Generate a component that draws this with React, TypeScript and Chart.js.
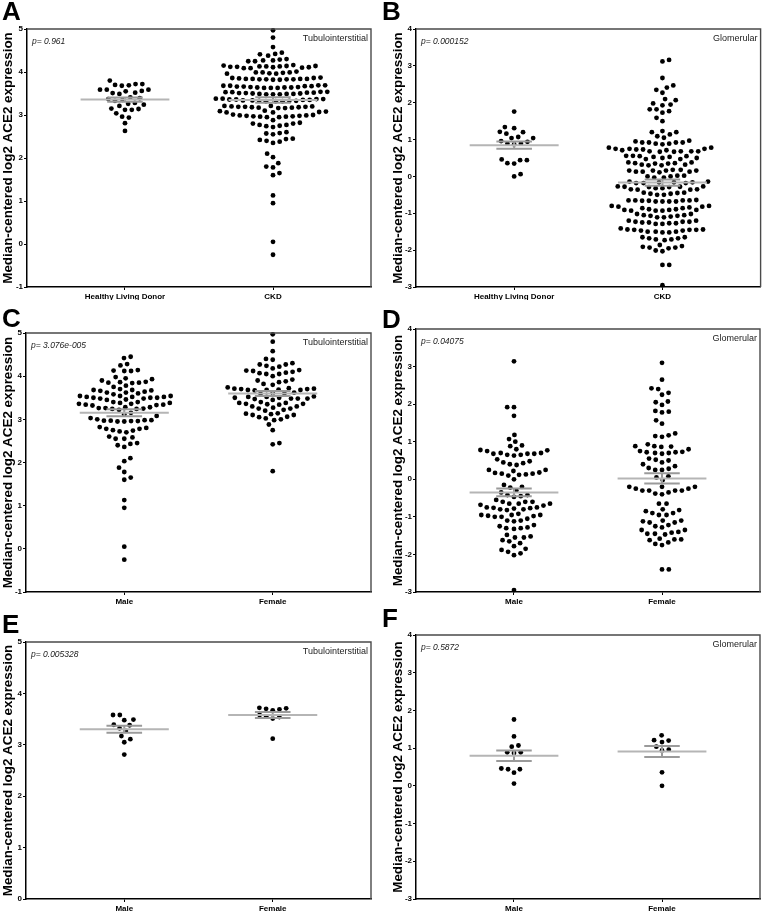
import React, { useEffect, useRef } from "react";
import { Chart, registerables } from "chart.js";
Chart.register(...registerables);

// ---------- categories & labels ----------
const donorCategories = ["Healthy Living Donor", "CKD"];
const sexCategories = ["Male", "Female"];
const panelLetters = ["A", "B", "C", "D", "E", "F"];
const pValueTexts = ["p= 0.961", "p= 0.000152", "p= 3.076e-005", "p= 0.04075", "p= 0.005328", "p= 0.5872"];
const compartmentTexts = ["Tubulointerstitial", "Glomerular", "Tubulointerstitial", "Glomerular", "Tubulointerstitial", "Glomerular"];
const yAxisTitle = "Median-centered log2 ACE2 expression";

// ---------- values ----------
const tubHealthyDonor = [3.72, 3.70, 3.68, 3.69, 3.72, 3.80, 3.59, 3.59, 3.55, 3.49, 3.51, 3.52, 3.56, 3.59, 3.39, 3.35, 3.33, 3.37, 3.41, 3.24, 3.26, 3.21, 3.28, 3.12, 3.15, 3.12, 3.14, 2.96, 2.94, 3.04, 2.81, 2.63];

const tubCkdAll = [
  4.97, 4.80, 4.58,
  4.45, 4.41, 4.42, 4.38,
  4.30, 4.27, 4.25, 4.25, 4.27, 4.29,
  4.16, 4.14, 4.13, 4.13, 4.12, 4.11, 4.09, 4.09, 4.10, 4.11, 4.12, 4.13, 4.14, 4.15,
  3.99, 3.96, 3.97, 3.99, 3.98, 3.96, 3.99, 4.01,
  3.87, 3.86, 3.84, 3.83, 3.84, 3.83, 3.82, 3.82, 3.83, 3.83, 3.84, 3.84, 3.85, 3.86,
  3.69, 3.68, 3.67, 3.66, 3.65, 3.64, 3.63, 3.63, 3.63, 3.64, 3.64, 3.65, 3.66, 3.67, 3.68, 3.69,
  3.54, 3.53, 3.52, 3.51, 3.50, 3.49, 3.48, 3.48, 3.48, 3.49, 3.49, 3.50, 3.51, 3.52, 3.53, 3.54,
  3.38, 3.37, 3.36, 3.35, 3.34, 3.33, 3.32, 3.32, 3.32, 3.33, 3.33, 3.34, 3.35, 3.36, 3.37, 3.38,
  3.21, 3.20, 3.19, 3.18, 3.17, 3.16, 3.16, 3.17, 3.18, 3.19, 3.19, 3.20, 3.21,
  3.09, 3.07, 3.06, 3.06, 3.08, 3.10,
  3.00, 2.99, 2.98, 2.97, 2.96, 2.95, 2.95, 2.96, 2.97, 2.98, 2.99, 3.01,
  2.88,
  2.82, 2.80, 2.77, 2.75, 2.72, 2.74, 2.77, 2.80,
  2.60, 2.57, 2.55, 2.58,
  2.45, 2.42, 2.38, 2.35, 2.40, 2.44,
  2.10, 2.02, 1.88, 1.80, 1.78, 1.65, 1.60, 1.13, 0.95, 0.05, -0.25,
];

const gloCkdAll = [
  3.16, 3.12, 2.67,
  2.41, 2.47, 2.35, 2.27,
  2.07, 1.95, 1.93, 1.98, 2.10,
  1.82, 1.73, 1.77, 1.82,
  1.59, 1.50,
  1.20, 1.14, 1.23, 1.09, 1.05, 1.20,
  0.97, 0.92, 0.92, 0.89, 0.87, 0.89, 0.92, 0.92, 0.95,
  0.78, 0.75, 0.73, 0.71, 0.68, 0.68, 0.67, 0.67, 0.68, 0.68, 0.71, 0.73, 0.75, 0.75, 0.78,
  0.56, 0.55, 0.53, 0.50, 0.47, 0.47, 0.50, 0.53, 0.55, 0.56,
  0.38, 0.36, 0.35, 0.32, 0.30, 0.30, 0.32, 0.35, 0.36, 0.38,
  0.18, 0.16, 0.16, 0.13, 0.13, 0.11, 0.13, 0.16, 0.16, 0.18,
  0.02, 0.00, -0.03, -0.03, 0.00, 0.02,
  -0.14, -0.16, -0.18, -0.18, -0.18, -0.16, -0.14, -0.16,
  -0.27, -0.28, -0.29, -0.32, -0.35, -0.36, -0.36, -0.35, -0.32, -0.29, -0.28, -0.27,
  -0.44, -0.47, -0.50, -0.50, -0.47, -0.44, -0.45,
  -0.65, -0.65, -0.66, -0.68, -0.68, -0.68, -0.68, -0.66, -0.65, -0.64, -0.65,
  -0.80, -0.82, -0.86, -0.89, -0.91, -0.91, -0.93, -0.93, -0.93, -0.91, -0.89, -0.86, -0.84, -0.82, -0.80,
  -1.02, -1.05, -1.07, -1.11, -1.11, -1.09, -1.07, -1.05, -1.02,
  -1.20, -1.23, -1.23, -1.25, -1.27, -1.29, -1.29, -1.27, -1.25, -1.23, -1.20,
  -1.41, -1.44, -1.45, -1.47, -1.50, -1.52, -1.52, -1.50, -1.47, -1.45, -1.50, -1.45, -1.44,
  -1.65, -1.68, -1.71, -1.73, -1.71, -1.68, -1.65,
  -1.86, -1.91, -1.93, -1.95, -1.93, -1.89,
  -2.03, -2.01,
  -2.40, -2.40,
  -2.95,
];

const tubCkdMale = [4.45, 4.42, 4.28, 4.25, 4.14, 4.12, 4.12, 4.13, 3.98, 3.95, 3.93, 3.90, 3.87, 3.85, 3.84, 3.85, 3.86, 3.78, 3.75, 3.70, 3.68, 3.66, 3.62, 3.64, 3.67, 3.68, 3.60, 3.58, 3.62, 3.54, 3.52, 3.52, 3.50, 3.48, 3.46, 3.45, 3.48, 3.50, 3.50, 3.52, 3.54, 3.54, 3.40, 3.38, 3.36, 3.34, 3.33, 3.32, 3.34, 3.36, 3.38, 3.40, 3.28, 3.26, 3.25, 3.24, 3.22, 3.24, 3.26, 3.28, 3.15, 3.12, 3.08, 3.00, 2.98, 2.97, 2.96, 2.95, 2.95, 2.96, 2.97, 2.98, 3.03, 2.80, 2.78, 2.75, 2.72, 2.70, 2.74, 2.78, 2.82, 2.60, 2.55, 2.55, 2.58, 2.45, 2.40, 2.36, 2.43, 2.10, 2.03, 1.88, 1.78, 1.65, 1.60, 1.13, 0.95, 0.05, -0.25];

const tubCkdFemale = [4.97, 4.80, 4.58, 4.40, 4.38, 4.27, 4.22, 4.18, 4.24, 4.27, 4.30, 4.13, 4.10, 4.07, 4.05, 4.00, 4.05, 4.08, 4.12, 4.14, 3.92, 3.88, 3.86, 3.90, 3.82, 3.80, 3.72, 3.71, 3.70, 3.68, 3.68, 3.67, 3.68, 3.69, 3.70, 3.71, 3.74, 3.60, 3.61, 3.59, 3.62, 3.48, 3.47, 3.52, 3.50, 3.53, 3.50, 3.52, 3.48, 3.45, 3.48, 3.38, 3.36, 3.34, 3.35, 3.36, 3.38, 3.40, 3.30, 3.27, 3.25, 3.20, 3.22, 3.25, 3.30, 3.14, 3.12, 3.10, 3.06, 3.02, 3.05, 3.10, 3.13, 2.98, 3.00, 2.88, 2.75, 2.45, 2.42, 1.80];

const gloCkdMale = [3.14, 1.92, 1.92, 1.69, 1.18, 1.07, 1.00, 0.88, 0.90, 0.78, 0.75, 0.77, 0.80, 0.70, 0.68, 0.65, 0.63, 0.65, 0.68, 0.68, 0.70, 0.48, 0.43, 0.53, 0.45, 0.38, 0.40, 0.25, 0.22, 0.18, 0.15, 0.12, 0.10, 0.13, 0.15, 0.17, 0.25, 0.00, -0.15, -0.22, -0.20, -0.30, -0.35, -0.42, -0.45, -0.47, -0.42, -0.60, -0.65, -0.68, -0.55, -0.60, -0.65, -0.70, -0.65, -0.60, -0.75, -0.78, -0.80, -0.76, -0.82, -0.80, -0.77, -0.75, -0.95, -0.98, -1.00, -0.92, -0.95, -1.00, -0.97, -0.95, -1.10, -1.12, -1.05, -1.10, -1.25, -1.30, -1.32, -1.30, -1.28, -1.22, -1.48, -1.55, -1.55, -1.52, -1.62, -1.70, -1.65, -1.78, -1.88, -1.97, -2.02, -1.93, -1.85, -2.95];

const gloCkdFemale = [3.10, 2.65, 2.42, 2.40, 2.30, 2.25, 2.07, 1.98, 2.05, 1.80, 1.78, 1.82, 1.57, 1.48, 1.22, 1.15, 1.13, 1.17, 0.88, 0.87, 0.86, 0.88, 0.93, 0.75, 0.72, 0.70, 0.68, 0.70, 0.72, 0.73, 0.80, 0.52, 0.45, 0.50, 0.55, 0.40, 0.35, 0.30, 0.25, 0.28, 0.25, 0.08, 0.05, -0.02, -0.25, -0.30, -0.20, -0.30, -0.20, -0.30, -0.20, -0.30, -0.25, -0.35, -0.40, -0.38, -0.65, -0.65, -0.80, -0.85, -0.90, -0.95, -0.95, -0.90, -0.82, -1.15, -1.10, -1.12, -1.15, -1.10, -1.28, -1.35, -1.25, -1.22, -1.40, -1.42, -1.35, -1.45, -1.47, -1.45, -1.60, -1.62, -1.68, -1.72, -1.75, -1.60, -1.58, -2.40, -2.40];

const tubHealthyMale = [3.58, 3.58, 3.49, 3.48, 3.38, 3.39, 3.32, 3.27, 3.17, 3.11, 3.05, 2.81];
const tubHealthyFemale = [3.71, 3.70, 3.67, 3.69, 3.72, 3.58, 3.54, 3.51, 3.55, 3.12];

const gloHealthyMale = [1.76, 1.31, 1.07, 1.04, 0.89, 0.87, 0.89, 0.46, 0.44, 0.35, 0.44, 0.06];
const gloHealthyFemale = [1.34, 1.20, 1.16, 1.21, 1.04, 0.94, 0.96, 0.36, 0.00];

const tubYRange = [-1, 5];
const gloYRange = [-3, 4];
const tubHealthyYRange = [0, 5];

// ---------- panel setup ----------
const panelGroups = [
  [tubHealthyDonor, tubCkdAll],
  [[...gloHealthyMale, ...gloHealthyFemale], gloCkdAll],
  [tubCkdMale, tubCkdFemale],
  [gloCkdMale, gloCkdFemale],
  [tubHealthyMale, tubHealthyFemale],
  [gloHealthyMale, gloHealthyFemale],
];
const panelCategories = [donorCategories, donorCategories, sexCategories, sexCategories, sexCategories, sexCategories];
const panelYRanges = [tubYRange, gloYRange, tubYRange, gloYRange, tubHealthyYRange, gloYRange];

// layout (page pixel coordinates)
const layouts = [
  { cx: 0, cy: 0, cw: 380, ch: 300, l: 27, t: 29, r: 371, b: 287, letterY: 20 },
  { cx: 380, cy: 0, cw: 383, ch: 300, l: 416, t: 29, r: 761, b: 287, letterY: 20 },
  { cx: 0, cy: 300, cw: 380, ch: 305, l: 26, t: 333, r: 371, b: 592, letterY: 327 },
  { cx: 380, cy: 300, cw: 383, ch: 305, l: 416, t: 329, r: 760, b: 592, letterY: 328 },
  { cx: 0, cy: 605, cw: 380, ch: 307, l: 26, t: 642, r: 371, b: 899, letterY: 633 },
  { cx: 380, cy: 605, cw: 383, ch: 307, l: 416, t: 635, r: 760, b: 899, letterY: 627 },
];

const X_MIN = 0.338;
const X_MAX = 2.662;
const DOT_PX = 6.8;
const FONT = "'Liberation Sans', Arial, Helvetica, sans-serif";

// Collision-avoiding dot layout (beeswarm) computed in pixel space.
function swarm(values: number[], center: number, pxPerY: number, pxPerX: number, D: number) {
  const order = values.map((v, i) => i).sort((a, b) => values[a] - values[b]);
  const placed: { x: number; y: number }[] = [];
  const out: { x: number; y: number }[] = [];
  let toggle = 1;
  for (const i of order) {
    const y = values[i] * pxPerY;
    const near = placed.filter((p) => Math.abs(p.y - y) < D);
    const cands = [0];
    for (const p of near) {
      const h = Math.sqrt(D * D - (p.y - y) * (p.y - y));
      cands.push(p.x + h, p.x - h);
    }
    const valid = cands.filter((x) => near.every((p) => (p.x - x) * (p.x - x) + (p.y - y) * (p.y - y) >= D * D - 1e-6));
    valid.sort((a, b) => Math.abs(a) - Math.abs(b));
    let best = valid[0];
    const twin = valid.find((x) => Math.abs(Math.abs(x) - Math.abs(best)) < 0.3 && Math.sign(x) !== Math.sign(best) && x !== 0);
    if (twin !== undefined && best !== 0) {
      best = Math.sign(best) === toggle ? best : twin;
      toggle = -toggle;
    }
    placed.push({ x: best, y });
    out.push({ x: center + best / pxPerX, y: values[i] });
  }
  return out;
}

function stats(values: number[]) {
  const n = values.length;
  const mean = values.reduce((s, v) => s + v, 0) / n;
  const sd = Math.sqrt(values.reduce((s, v) => s + (v - mean) * (v - mean), 0) / (n - 1));
  return { mean, sem: sd / Math.sqrt(n) };
}

function Panel({ idx }: { idx: number }) {
  const ref = useRef<HTMLCanvasElement | null>(null);
  const L = layouts[idx];
  useEffect(() => {
    const canvas = ref.current!;
    const [yMin, yMax] = panelYRanges[idx];
    const cats = panelCategories[idx];
    const pxPerY = (L.b - L.t) / (yMax - yMin);
    const pxPerX = (L.r - L.l) / (X_MAX - X_MIN);
    const lineDs: any[] = [];
    const pointDs: any[] = [];
    panelGroups[idx].forEach((vals, gi) => {
      const c = gi + 1;
      const { mean, sem } = stats(vals);
      const meanColor = "#b5b5b5";
      const semColor = "#9a9a9a";
      const mk = (data: any[], color: string) => ({
        data,
        showLine: true,
        borderColor: color,
        borderWidth: 2,
        pointRadius: 0,
        pointHoverRadius: 0,
        fill: false,
        clip: false,
      });
      lineDs.push(mk([{ x: c - 0.3, y: mean }, { x: c + 0.3, y: mean }], meanColor));
      lineDs.push(mk([{ x: c - 0.12, y: mean + sem }, { x: c + 0.12, y: mean + sem }], semColor));
      lineDs.push(mk([{ x: c - 0.12, y: mean - sem }, { x: c + 0.12, y: mean - sem }], semColor));
      lineDs.push(mk([{ x: c, y: mean - sem }, { x: c, y: mean + sem }], semColor));
      pointDs.push({
        data: swarm(vals, c, pxPerY, pxPerX, DOT_PX),
        pointRadius: 2.4,
        pointHoverRadius: 2.4,
        backgroundColor: "#000",
        borderWidth: 0,
        showLine: false,
        clip: false,
      });
    });

    const decor = {
      id: "decor",
      afterDraw(chart: any) {
        const { ctx } = chart;
        const { left, top, right, bottom } = chart.chartArea;
        ctx.save();
        ctx.strokeStyle = "#4a4a4a";
        ctx.lineWidth = 1.4;
        ctx.beginPath();
        ctx.moveTo(left, top);
        ctx.lineTo(right, top);
        ctx.lineTo(right, bottom);
        ctx.stroke();
        ctx.fillStyle = "#000";
        ctx.font = `bold 26px ${FONT}`;
        ctx.textAlign = "left";
        ctx.textBaseline = "alphabetic";
        ctx.fillText(panelLetters[idx], 2, L.letterY - L.cy);
        ctx.save();
        const tx = (L.cx === 0 ? 8.5 : 398) - L.cx;
        ctx.translate(tx, (top + bottom) / 2);
        ctx.rotate(-Math.PI / 2);
        ctx.font = `bold 13.4px ${FONT}`;
        ctx.textAlign = "center";
        ctx.textBaseline = "middle";
        ctx.fillText(yAxisTitle, 0, 0);
        ctx.restore();
        ctx.font = `italic 8.5px ${FONT}`;
        ctx.fillStyle = "#222";
        ctx.textAlign = "left";
        ctx.textBaseline = "middle";
        ctx.fillText(pValueTexts[idx], left + 5, top + 13);
        ctx.font = `9px ${FONT}`;
        ctx.textAlign = "right";
        ctx.fillText(compartmentTexts[idx], right - 3, top + 10);
        ctx.restore();
      },
    };

    const chart = new Chart(canvas, {
      type: "scatter",
      data: { datasets: [...lineDs, ...pointDs] },
      options: {
        animation: false,
        responsive: false,
        devicePixelRatio: 1,
        events: [],
        layout: { padding: { left: 0, top: L.t - L.cy, right: L.cx + L.cw - L.r, bottom: 0 } },
        plugins: { legend: { display: false }, tooltip: { enabled: false } },
        scales: {
          x: {
            type: "linear",
            min: X_MIN,
            max: X_MAX,
            afterBuildTicks: (axis: any) => {
              axis.ticks = cats.map((_, i) => ({ value: i + 1 }));
            },
            afterFit: (s: any) => {
              s.height = L.cy + L.ch - L.b;
            },
            ticks: {
              callback: (v: any) => cats[Math.round(v) - 1] ?? "",
              font: { family: FONT, size: 8, weight: "bold" },
              color: "#000",
              padding: 2,
              maxRotation: 0,
              autoSkip: false,
            },
            grid: { display: true, drawOnChartArea: false, drawTicks: true, tickLength: 3, color: "#000", lineWidth: 1 },
            border: { display: true, color: "#000", width: 1.5 },
          },
          y: {
            type: "linear",
            min: yMin,
            max: yMax,
            afterFit: (s: any) => {
              s.width = L.l - L.cx;
            },
            ticks: {
              stepSize: 1,
              font: { family: FONT, size: 8, weight: "bold" },
              color: "#000",
              padding: 1,
            },
            grid: { display: true, drawOnChartArea: false, drawTicks: true, tickLength: 3, color: "#000", lineWidth: 1 },
            border: { display: true, color: "#000", width: 1.5 },
          },
        },
      } as any,
      plugins: [decor],
    });
    return () => chart.destroy();
  }, []);
  return (
    <canvas
      ref={ref}
      width={L.cw}
      height={L.ch}
      style={{ position: "absolute", left: L.cx, top: L.cy, width: L.cw, height: L.ch }}
    />
  );
}

export default function App() {
  return (
    <div style={{ position: "absolute", left: 0, top: 0, width: 763, height: 912, background: "#fff", overflow: "hidden" }}>
      {layouts.map((_, i) => (
        <Panel key={i} idx={i} />
      ))}
    </div>
  );
}
